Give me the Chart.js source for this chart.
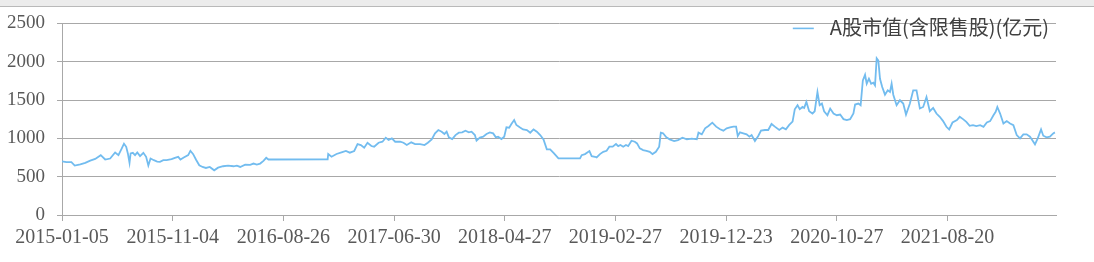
<!DOCTYPE html>
<html>
<head>
<meta charset="utf-8">
<script src="https://cdn.jsdelivr.net/npm/chart.js@4/dist/chart.umd.min.js"></script>
<style>
  html, body { margin: 0; padding: 0; background: #fff; }
  #wrap { position: relative; width: 1094px; height: 262px; }
  #bar { position: absolute; left: 0; top: 0; width: 1094px; height: 6px; background: #ececec; border-bottom: 1px solid #b9b9b9; }
  canvas { position: absolute; left: 0; top: 0; }
</style>
</head>
<body>
<div id="wrap">
  <canvas id="mychart" width="1094" height="262"></canvas>
  <div id="bar"></div>
</div>
<script>
var seriesName = "A股市值(含限售股)(亿元)"

// x tick labels, one every 200 trading days
var tickDates = ["2015-01-05", "2015-11-04", "2016-08-26", "2017-06-30", "2018-04-27",
                 "2019-02-27", "2019-12-23", "2020-10-27", "2021-08-20"]
var tickStep = 200

// trading day number (0 = 2015-01-05) and value
var days = [0, 8, 17, 23, 33, 42, 51, 60, 70, 78, 87, 96, 102, 108, 112, 116, 119, 122, 124, 128,
  132, 136, 141, 147, 152, 156, 160, 166, 172, 177, 183, 189, 198, 204, 210, 214, 220, 228, 232, 237,
  242, 248, 254, 260, 267, 275, 282, 291, 300, 310, 316, 322, 331, 340, 346, 352, 358, 364, 369, 373,
  480, 481, 487, 496, 505, 513, 520, 528, 534, 540, 546, 552, 559, 564, 572, 579, 585, 590, 596, 602,
  611, 617, 623, 631, 638, 647, 655, 661, 668, 674, 680, 686, 691, 695, 699, 705, 711, 717, 723, 729,
  735, 740, 746, 749, 755, 761, 767, 773, 779, 784, 788, 794, 799, 803, 808, 812, 817, 821, 827, 833,
  840, 846, 852, 858, 864, 870, 876, 882, 889, 897, 936, 939, 945, 953, 957, 963, 966, 972, 978, 984,
  989, 995, 1001, 1005, 1009, 1014, 1019, 1023, 1029, 1035, 1039, 1044, 1050, 1056, 1062, 1067, 1073, 1079, 1082, 1086,
  1092, 1098, 1106, 1113, 1121, 1129, 1138, 1147, 1150, 1156, 1162, 1168, 1175, 1182, 1189, 1195, 1201, 1207, 1213, 1218,
  1221, 1225, 1231, 1237, 1242, 1246, 1252, 1258, 1263, 1270, 1276, 1282, 1288, 1296, 1302, 1308, 1314, 1320, 1324, 1329,
  1333, 1338, 1341, 1345, 1350, 1356, 1360, 1365, 1369, 1373, 1377, 1383, 1388, 1394, 1400, 1406, 1412, 1418, 1424, 1430,
  1433, 1439, 1443, 1447, 1451, 1454, 1458, 1462, 1466, 1469, 1472, 1475, 1478, 1482, 1487, 1492, 1496, 1499, 1502, 1508,
  1514, 1520, 1525, 1532, 1538, 1544, 1550, 1556, 1562, 1568, 1574, 1580, 1586, 1592, 1598, 1603, 1609, 1617, 1622, 1628,
  1634, 1640, 1646, 1652, 1659, 1665, 1671, 1677, 1683, 1687, 1690, 1695, 1701, 1707, 1713, 1719, 1725, 1731, 1737, 1743,
  1749, 1753, 1758, 1763, 1769, 1773, 1779, 1785, 1791, 1794]

var values = [700, 689, 689, 645, 662, 680, 710, 732, 781, 724, 737, 816, 781, 868, 930, 890, 803, 680, 803, 811,
  781, 816, 768, 811, 759, 645, 737, 715, 697, 693, 715, 715, 728, 746, 759, 724, 750, 781, 838, 794,
  724, 649, 627, 614, 627, 583, 618, 636, 645, 636, 645, 627, 658, 654, 671, 658, 671, 706, 746, 724,
  726, 796, 761, 796, 817, 835, 813, 835, 926, 913, 878, 943, 900, 891, 943, 956, 1009, 978, 1000, 956,
  956, 943, 913, 948, 926, 926, 913, 943, 987, 1065, 1109, 1087, 1057, 1087, 1013, 991, 1043, 1074, 1078, 1100,
  1078, 1087, 1043, 970, 1009, 1022, 1057, 1078, 1065, 1013, 1022, 991, 1022, 1144, 1139, 1187, 1239, 1174, 1144, 1117,
  1109, 1074, 1117, 1087, 1043, 987, 857, 857, 805, 738, 738, 781, 795, 834, 768, 760, 751, 795, 825, 838,
  891, 891, 926, 899, 913, 891, 913, 899, 969, 956, 934, 869, 847, 838, 825, 795, 825, 891, 1074, 1066,
  1013, 987, 965, 978, 1009, 987, 996, 987, 1074, 1052, 1131, 1162, 1205, 1153, 1118, 1101, 1131, 1144, 1153, 1153,
  1031, 1079, 1066, 1052, 1022, 1044, 965, 1031, 1101, 1109, 1109, 1188, 1153, 1109, 1140, 1118, 1175, 1219, 1380, 1432,
  1380, 1410, 1397, 1475, 1354, 1324, 1354, 1605, 1432, 1454, 1354, 1302, 1389, 1324, 1302, 1311, 1251, 1238, 1251, 1324,
  1441, 1454, 1432, 1756, 1829, 1713, 1778, 1713, 1726, 1691, 2045, 2015, 1778, 1670, 1570, 1626, 1605, 1713, 1570, 1432,
  1497, 1454, 1311, 1454, 1626, 1626, 1389, 1410, 1540, 1354, 1397, 1324, 1281, 1225, 1151, 1117, 1207, 1238, 1281, 1251,
  1216, 1164, 1173, 1160, 1173, 1151, 1207, 1225, 1302, 1346, 1410, 1324, 1194, 1225, 1194, 1173, 1043, 1000, 1052, 1052,
  1022, 978, 922, 1000, 1117, 1035, 1013, 1022, 1065, 1078]

var lastDay = 1796

var points = []
for (var i = 0; i < days.length; i++) {
  points.push({ x: days[i], y: values[i] })
}

var lineColor = "#72bcef"
var gridColor = "#a8a8a8"
var textColor = "#595959"

// legend drawn by hand at the top right, over the chart area
var legendPlugin = {
  id: "topRightLegend",
  afterDraw: function(chart) {
    var c = chart.ctx
    var area = chart.chartArea
    c.save()
    c.font = "20px 'Noto Sans CJK SC', sans-serif"
    c.fillStyle = "#404040"
    c.textAlign = "right"
    c.textBaseline = "middle"
    var right = area.right - 7
    var y = area.top + 4
    c.fillText(seriesName, right, y)
    var start = right - c.measureText(seriesName).width
    c.strokeStyle = lineColor
    c.lineWidth = 1.6
    c.beginPath()
    c.moveTo(start - 37, y + 1)
    c.lineTo(start - 16, y + 1)
    c.stroke()
    c.restore()
  }
}

var mychart = document.getElementById("mychart").getContext("2d")
var chart = new Chart(mychart, {
  type: "line",
  data: {
    datasets: [
      { label: seriesName,
        data: points,
        borderColor: lineColor,
        backgroundColor: lineColor,
        borderWidth: 1.8,
        pointRadius: 0,
        tension: 0
      }
    ]
  },
  options: {
    responsive: false,
    animation: false,
    layout: { padding: { top: 22, right: 38, left: 0, bottom: 0 } },
    plugins: {
      tooltip: { enabled: false },
      legend: { display: false }
    },
    scales: {
      x: {
        type: "linear",
        min: 0,
        max: lastDay,
        afterFit: function(scale) { scale.height = 47 },
        afterBuildTicks: function(scale) {
          scale.ticks = tickDates.map(function(d, i) { return { value: i * tickStep } })
        },
        grid: { drawOnChartArea: false, tickLength: 6, color: gridColor },
        border: { color: gridColor },
        ticks: {
          autoSkip: false,
          maxRotation: 0,
          padding: 5,
          color: textColor,
          font: { family: "'Liberation Serif', serif", size: 20 },
          callback: function(v) { return tickDates[Math.round(v / tickStep)] }
        }
      },
      y: {
        min: 0,
        max: 2500,
        afterFit: function(scale) { scale.width = 62 },
        grid: { color: gridColor, tickLength: 5 },
        border: { color: gridColor },
        ticks: {
          stepSize: 500,
          padding: 12,
          color: textColor,
          font: { family: "'Liberation Serif', serif", size: 19 },
          callback: function(v) { return String(v) }
        }
      }
    }
  },
  plugins: [legendPlugin]
})
</script>
</body>
</html>
